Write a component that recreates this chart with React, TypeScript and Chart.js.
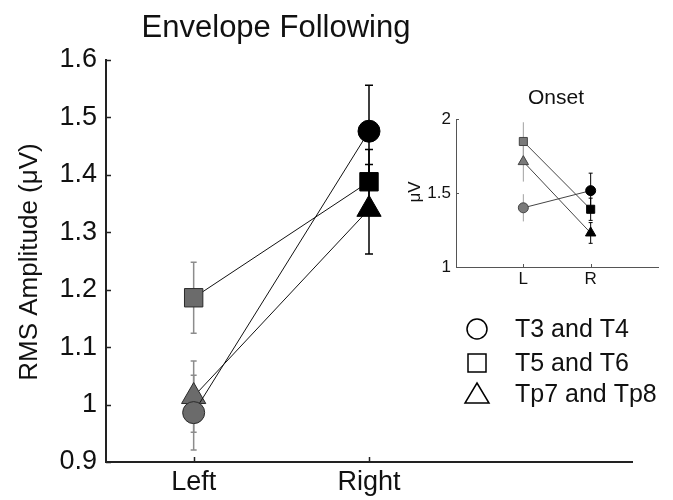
import React, { useEffect, useRef } from 'react';
import { Chart, registerables } from 'chart.js';

Chart.register(...registerables);

// ---------- data ----------
const CATEGORIES = ['Left', 'Right'];
const SERIES_NAMES = ['T3 and T4', 'T5 and T6', 'Tp7 and Tp8'];
const POINT_STYLES = ['circle', 'rect', 'triangle'];

const MAIN_T3T4 = [0.986, 1.476];
const MAIN_T5T6 = [1.186, 1.388];
const MAIN_TP7TP8 = [1.014, 1.34];
const MAIN_ERR_T3T4 = [0.065, 0.08];
const MAIN_ERR_T5T6 = [0.062, 0.056];
const MAIN_ERR_TP7TP8 = [0.062, 0.078];
const MAIN_Y_TICKS = [0.9, 1.0, 1.1, 1.2, 1.3, 1.4, 1.5, 1.6];
const MAIN_Y_LABELS = ['0.9', '1', '1.1', '1.2', '1.3', '1.4', '1.5', '1.6'];

const INSET_CATEGORIES = ['L', 'R'];
const INSET_T3T4 = [1.4, 1.516];
const INSET_T5T6 = [1.848, 1.39];
const INSET_TP7TP8 = [1.712, 1.23];
const INSET_ERR_T3T4 = [0.092, 0.118];
const INSET_ERR_T5T6 = [0.13, 0.075];
const INSET_ERR_TP7TP8 = [0.135, 0.07];
const INSET_Y_TICKS = [1, 1.5, 2];
const INSET_Y_LABELS = ['1', '1.5', '2'];

const MAIN_TITLE = 'Envelope Following';
const MAIN_Y_TITLE = 'RMS Amplitude (\u03bcV)';
const INSET_TITLE = 'Onset';
const INSET_Y_TITLE = '\u03bcV';

const FONT = '"Liberation Sans", Arial, Helvetica, sans-serif';

function text(ctx: CanvasRenderingContext2D, s: string, x: number, y: number, size: number, align: CanvasTextAlign, rot = 0, baseline: CanvasTextBaseline = 'middle') {
  ctx.save();
  ctx.translate(x, y);
  if (rot) ctx.rotate(rot);
  ctx.font = `${size}px ${FONT}`;
  ctx.textAlign = align;
  ctx.textBaseline = baseline;
  ctx.fillStyle = '#111';
  ctx.fillText(s, 0, 0);
  ctx.restore();
}

function makeDatasets(series: number[][], radii: number[], leftFill: string, leftBorder: string, lineColor: string) {
  return series.map((vals, i) => ({
    label: SERIES_NAMES[i],
    data: vals.map((v, j) => ({ x: j + 1, y: v })),
    borderColor: lineColor,
    borderWidth: 1,
    pointStyle: POINT_STYLES[i],
    pointRadius: radii[i],
    pointHoverRadius: radii[i],
    pointBackgroundColor: [leftFill, '#000'],
    pointBorderColor: [leftBorder, '#000'],
    pointBorderWidth: 1,
    showLine: true,
    fill: false,
    tension: 0,
  }));
}

function errorBarPlugin(series: number[][], errs: number[][], leftColor: string, leftCap: number, rightCap: number, width: number) {
  return {
    id: 'errbars',
    beforeDatasetsDraw(chart: any) {
      const ctx = chart.ctx;
      const xs = chart.scales.x;
      const ys = chart.scales.y;
      ctx.save();
      series.forEach((vals, i) => {
        vals.forEach((v, j) => {
          const e = errs[i][j];
          const cap = j === 0 ? leftCap : rightCap;
          const x = xs.getPixelForValue(j + 1);
          const y1 = ys.getPixelForValue(v - e);
          const y2 = ys.getPixelForValue(v + e);
          ctx.strokeStyle = j === 0 ? leftColor : '#000';
          ctx.lineWidth = width;
          ctx.beginPath();
          ctx.moveTo(x, y1);
          ctx.lineTo(x, y2);
          ctx.moveTo(x - cap, y1);
          ctx.lineTo(x + cap, y1);
          ctx.moveTo(x - cap, y2);
          ctx.lineTo(x + cap, y2);
          ctx.stroke();
        });
      });
      ctx.restore();
    },
  };
}

function axesPlugin(yTicks: number[], yLabels: string[], xLabels: string[], tickLen: number, yFont: number, xFont: number, yPad: number, xPad: number, color: string, lw: number) {
  return {
    id: 'axesDeco',
    afterDraw(chart: any) {
      const ctx = chart.ctx;
      const xs = chart.scales.x;
      const ys = chart.scales.y;
      const a = chart.chartArea;
      ctx.save();
      ctx.strokeStyle = color;
      ctx.lineWidth = lw;
      ctx.beginPath();
      yTicks.forEach((t) => {
        const y = Math.round(ys.getPixelForValue(t)) + 0.5;
        ctx.moveTo(a.left, y);
        ctx.lineTo(a.left + tickLen, y);
      });
      xLabels.forEach((_, j) => {
        const x = Math.round(xs.getPixelForValue(j + 1)) + 0.5;
        ctx.moveTo(x, a.bottom);
        ctx.lineTo(x, a.bottom - tickLen);
      });
      ctx.stroke();
      ctx.restore();
      yTicks.forEach((t, k) => {
        text(ctx, yLabels[k], a.left - yPad, ys.getPixelForValue(t), yFont, 'right');
      });
      xLabels.forEach((l, j) => {
        text(ctx, l, xs.getPixelForValue(j + 1), a.bottom + xPad, xFont, 'center', 0, 'top');
      });
    },
  };
}

const mainDecor = {
  id: 'mainDecor',
  afterDraw(chart: any) {
    const ctx = chart.ctx;
    text(ctx, MAIN_TITLE, 276, 37, 31, 'center', 0, 'alphabetic');
    text(ctx, MAIN_Y_TITLE, 30, 262, 26, 'center', -Math.PI / 2);
    // legend
    const lx = 477;
    const rows = [329, 363, 394];
    ctx.save();
    ctx.strokeStyle = '#000';
    ctx.lineWidth = 1.5;
    rows.forEach((ry, i) => {
      ctx.beginPath();
      if (POINT_STYLES[i] === 'circle') {
        ctx.arc(lx, ry, 10, 0, Math.PI * 2);
      } else if (POINT_STYLES[i] === 'rect') {
        ctx.rect(lx - 9, ry - 9, 18, 18);
      } else {
        ctx.moveTo(lx, ry - 11);
        ctx.lineTo(lx + 12, ry + 9);
        ctx.lineTo(lx - 12, ry + 9);
        ctx.closePath();
      }
      ctx.stroke();
    });
    ctx.restore();
    rows.forEach((ry, i) => text(ctx, SERIES_NAMES[i], 515, ry + 1, 25, 'left'));
  },
};

const insetDecor = {
  id: 'insetDecor',
  afterDraw(chart: any) {
    const ctx = chart.ctx;
    text(ctx, INSET_TITLE, 156, 18, 21, 'center');
    text(ctx, INSET_Y_TITLE, 15, 112, 17, 'center', -Math.PI / 2);
  },
};

function baseScales(xMin: number, xMax: number, yMin: number, yMax: number, yWidth: number, xHeight: number, borderColor: string, borderWidth: number) {
  return {
    x: {
      type: 'linear',
      min: xMin,
      max: xMax,
      grid: { display: false, drawTicks: false, tickLength: 0 },
      border: { display: true, color: borderColor, width: borderWidth },
      ticks: { display: false },
      afterFit(scale: any) {
        scale.height = xHeight;
      },
    },
    y: {
      min: yMin,
      max: yMax,
      grid: { display: false, drawTicks: false, tickLength: 0 },
      border: { display: true, color: borderColor, width: borderWidth },
      ticks: { display: false },
      afterFit(scale: any) {
        scale.width = yWidth;
      },
    },
  };
}

export default function App() {
  const mainRef = useRef<HTMLCanvasElement>(null);
  const insetRef = useRef<HTMLCanvasElement>(null);

  useEffect(() => {
    const mainSeries = [MAIN_T3T4, MAIN_T5T6, MAIN_TP7TP8];
    const mainErrs = [MAIN_ERR_T3T4, MAIN_ERR_T5T6, MAIN_ERR_TP7TP8];
    const main = new Chart(mainRef.current as HTMLCanvasElement, {
      type: 'line',
      data: { datasets: makeDatasets(mainSeries, [11, 13, 14], '#6b6b6b', '#2a2a2a', '#111') as any },
      options: {
        animation: false,
        responsive: false,
        events: [],
        layout: { padding: { top: 60, right: 41, left: 0, bottom: 0 } },
        plugins: { legend: { display: false }, tooltip: { enabled: false }, title: { display: false } },
        scales: baseScales(0.5, 3.5, 0.9, 1.6, 106, 38, '#222', 2) as any,
      },
      plugins: [
        errorBarPlugin(mainSeries, mainErrs, '#8c8c8c', 3, 4, 1.5),
        axesPlugin(MAIN_Y_TICKS, MAIN_Y_LABELS, CATEGORIES, 5, 27, 27, 9, 7, '#222', 1.5),
        mainDecor,
      ],
    });

    const insetSeries = [INSET_T3T4, INSET_T5T6, INSET_TP7TP8];
    const insetErrs = [INSET_ERR_T3T4, INSET_ERR_T5T6, INSET_ERR_TP7TP8];
    const inset = new Chart(insetRef.current as HTMLCanvasElement, {
      type: 'line',
      data: { datasets: makeDatasets(insetSeries, [5, 5.7, 6], '#7a7a7a', '#444', '#444') as any },
      options: {
        animation: false,
        responsive: false,
        events: [],
        layout: { padding: { top: 39, right: 15, left: 0, bottom: 0 } },
        plugins: { legend: { display: false }, tooltip: { enabled: false }, title: { display: false } },
        scales: baseScales(0, 3, 1, 2, 56, 33, '#555', 1) as any,
      },
      plugins: [
        errorBarPlugin(insetSeries, insetErrs, '#a0a0a0', 0, 2, 1),
        axesPlugin(INSET_Y_TICKS, INSET_Y_LABELS, INSET_CATEGORIES, 3, 17, 17, 5, 4, '#555', 1),
        insetDecor,
      ],
    });

    return () => {
      main.destroy();
      inset.destroy();
    };
  }, []);

  return (
    <div style={{ position: 'fixed', left: 0, top: 0, width: 673, height: 500, background: '#fff' }}>
      <canvas ref={mainRef} width={673} height={500} style={{ position: 'absolute', left: 0, top: 0, width: 673, height: 500 }} />
      <canvas ref={insetRef} width={273} height={220} style={{ position: 'absolute', left: 400, top: 80, width: 273, height: 220 }} />
    </div>
  );
}
